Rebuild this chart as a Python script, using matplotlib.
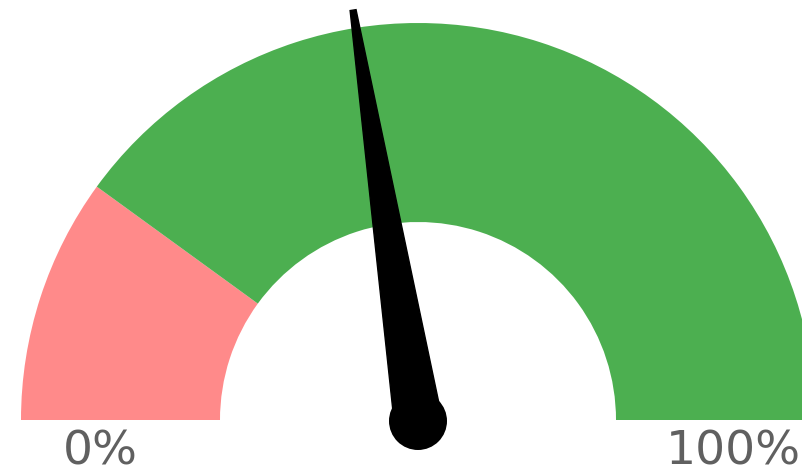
import numpy as np
import matplotlib
matplotlib.use("Agg")
import matplotlib.pyplot as plt
from matplotlib.patches import Wedge, Polygon, Circle

# gauge data
band_edges = [0, 20, 100]          # percent
band_colors = ["#FF8A8A", "#4CAF50"]
needle_value = 45                  # percent
end_labels = ["0%", "100%"]

# layout (pixel-like units, centre of gauge at origin)
R_OUT = 397
R_IN = 198
W, H = 803, 476
CX, CY = 418, 420


def pct_to_deg(p):
    return 180 - p * 180 / 100


fig = plt.figure(figsize=(W / 100, H / 100), dpi=100)
ax = fig.add_axes([0, 0, 1, 1])
ax.set_xlim(-CX, W - CX)
ax.set_ylim(-(H - CY), CY)
ax.set_aspect("equal")
ax.axis("off")

for lo, hi, col in zip(band_edges[:-1], band_edges[1:], band_colors):
    ax.add_patch(Wedge((0, 0), R_OUT, pct_to_deg(hi), pct_to_deg(lo),
                       width=R_OUT - R_IN, facecolor=col, edgecolor="none"))

# needle
a = np.radians(pct_to_deg(needle_value))
length = 415
d = np.array([np.cos(a), np.sin(a)])
n = np.array([-d[1], d[0]])
hw_base, hw_tip = 24, 3
pts = [n * hw_base, d * length + n * hw_tip, d * length - n * hw_tip, -n * hw_base]
ax.add_patch(Polygon(pts, closed=True, facecolor="black", edgecolor="black", zorder=3))
ax.add_patch(Circle((0, -1), 29, facecolor="black", edgecolor="none", zorder=3))

# end labels
ax.text(-318, -32, end_labels[0], ha="center", va="center", fontsize=34,
        color="#606060", family="DejaVu Sans")
ax.text(W - CX - 2, -32, end_labels[1], ha="right", va="center", fontsize=34,
        color="#606060", family="DejaVu Sans")

fig.savefig("out.png", dpi=100, facecolor="white")
